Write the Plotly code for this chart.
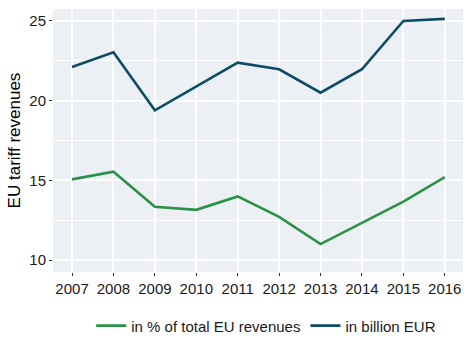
import plotly.graph_objects as go

years = [2007, 2008, 2009, 2010, 2011, 2012, 2013, 2014, 2015, 2016]
pct_total = [15.06, 15.54, 13.34, 13.15, 13.99, 12.71, 11.0, 12.35, 13.67, 15.2]
billion_eur = [22.11, 23.03, 19.39, 20.88, 22.38, 21.97, 20.5, 21.97, 25.0, 25.13]

green = "#2A9145"
blue = "#0E4C66"
font_family = "Liberation Sans, Arial, sans-serif"

fig = go.Figure()
fig.add_trace(go.Scatter(x=years, y=pct_total, mode="lines", name="in % of total EU revenues",
                         line=dict(color=green, width=2.6)))
fig.add_trace(go.Scatter(x=years, y=billion_eur, mode="lines", name="in billion EUR",
                         line=dict(color=blue, width=2.6)))

fig.update_layout(
    width=473, height=342,
    margin=dict(l=53, r=10, t=9, b=70, pad=0, autoexpand=False),
    paper_bgcolor="white",
    plot_bgcolor="#ECF0F5",
    font=dict(family=font_family, size=15, color="#1a1a1a"),
    showlegend=True,
    legend=dict(orientation="h", x=0.52, xanchor="center", y=-0.205, yanchor="middle",
                font=dict(size=15, color="#1a1a1a"), tracegroupgap=0, itemwidth=30),
)
fig.update_xaxes(
    range=[2006.54, 2016.44], tickmode="array", tickvals=years, ticktext=[str(y) for y in years],
    showgrid=True, gridcolor="white", gridwidth=1.5, zeroline=False,
    ticks="outside", ticklen=3, tickcolor="#333333", tickwidth=1,
    tickfont=dict(size=15, color="#1a1a1a"), showline=False,
)
fig.update_yaxes(
    range=[9.25, 25.75], tickmode="array", tickvals=[10, 15, 20, 25],
    showgrid=True, gridcolor="white", gridwidth=1.5, zeroline=False,
    minor=dict(tickmode="array", tickvals=[12.5, 17.5, 22.5], showgrid=True, gridcolor="white", gridwidth=1, ticks=""),
    ticks="outside", ticklen=3, tickcolor="#333333", tickwidth=1,
    tickfont=dict(size=15, color="#1a1a1a"), showline=False,
    title=dict(text="EU tariff revenues", font=dict(size=17, color="#000000"), standoff=4),
)

fig.write_html("out.html")
